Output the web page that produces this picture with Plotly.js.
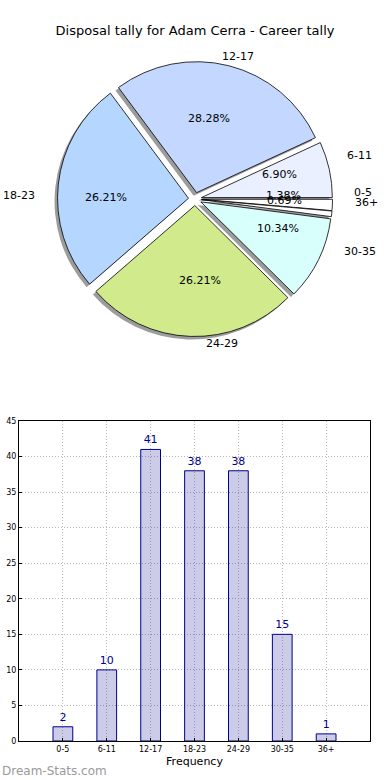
<!DOCTYPE html>
<html>
<head>
<meta charset="utf-8">
<script src="https://cdn.plot.ly/plotly-3.0.1.min.js"></script>
<style>html,body{margin:0;padding:0;background:#fff;}#chart{width:390px;height:780px;}</style>
</head>
<body>
<div id="chart"></div>
<script>
const categories = ['0-5','6-11','12-17','18-23','24-29','30-35','36+'];
const counts = [2, 10, 41, 38, 38, 15, 1];
const pieColors = ['#ffffff','#eaf0ff','#c4d8ff','#b4d6ff','#d0ea8c','#d9fffd','#ffffff'];
const titleText = 'Disposal tally for Adam Cerra - Career tally';

const W = 390, H = 780;
const FONT = 'DejaVu Sans, sans-serif';
const pull = 0.05;
// pie box in pixels
const box = {x0: 57.5, x1: 332.5, y0: 61.5, y1: 336.5};
const cx = (box.x0 + box.x1) / 2, cy = (box.y0 + box.y1) / 2;
// text placement radii (reference pie is slightly wider than tall)
const rx = 137, ry = 126;
const px2x = p => p / W, px2y = p => 1 - p / H;

const total = counts.reduce((a, b) => a + b, 0);
const pulls = counts.map(() => pull);

const shadowDx = -3, shadowDy = 3;
const shadow = {
  type: 'pie', values: counts, labels: categories, sort: false,
  direction: 'counterclockwise', rotation: 90, pull: pulls,
  marker: {colors: counts.map(() => 'rgba(90,90,90,0.6)'), line: {width: 0}},
  textinfo: 'none', hoverinfo: 'skip', showlegend: false,
  domain: {x: [px2x(box.x0 + shadowDx), px2x(box.x1 + shadowDx)], y: [px2y(box.y1 + shadowDy), px2y(box.y0 + shadowDy)]}
};
const pie = {
  type: 'pie', values: counts, labels: categories, sort: false,
  direction: 'counterclockwise', rotation: 90, pull: pulls,
  marker: {colors: pieColors, line: {color: '#000', width: 0.8}},
  textinfo: 'none', hoverinfo: 'label+percent', showlegend: false,
  domain: {x: [px2x(box.x0), px2x(box.x1)], y: [px2y(box.y1), px2y(box.y0)]}
};

const bars = {
  type: 'bar', x: categories, y: counts, width: 0.45,
  marker: {color: 'rgba(0,0,139,0.2)', line: {color: '#00008b', width: 1}},
  text: counts.map(String), textposition: 'outside', cliponaxis: false,
  textfont: {color: '#00008b', size: 11, family: FONT},
  xaxis: 'x', yaxis: 'y', showlegend: false, hoverinfo: 'x+y'
};

const annotations = [];
let cum = 0;
counts.forEach((v, i) => {
  const mid = (cum + v / 2) / total * 2 * Math.PI;
  cum += v;
  const c = Math.cos(mid), s = Math.sin(mid);
  const ox = pull * rx * c, oy = pull * ry * s;
  annotations.push({
    xref: 'paper', yref: 'paper', showarrow: false,
    x: px2x(cx + ox + 0.6 * rx * c), y: px2y(cy - oy - 0.6 * ry * s),
    xanchor: 'center', yanchor: 'middle',
    text: (v / total * 100).toFixed(2) + '%',
    font: {family: FONT, size: 11, color: '#000'}
  });
  annotations.push({
    xref: 'paper', yref: 'paper', showarrow: false,
    x: px2x(cx + ox + 1.1 * rx * c), y: px2y(cy - oy - 1.1 * ry * s),
    xanchor: c > 0 ? 'left' : 'right', yanchor: 'middle',
    text: categories[i],
    font: {family: FONT, size: 11, color: '#000'}
  });
});
annotations.push({
  xref: 'paper', yref: 'paper', showarrow: false,
  x: 0, y: px2y(771), xanchor: 'left', yanchor: 'middle',
  text: 'Dream-Stats.com', font: {family: FONT, size: 12, color: '#9a9a9a'}
});

const layout = {
  width: W, height: H,
  margin: {l: 0, r: 0, t: 0, b: 0},
  paper_bgcolor: '#fff', plot_bgcolor: '#fff',
  font: {family: FONT, color: '#000'},
  title: {text: titleText, font: {family: FONT, size: 13, color: '#000'}, x: 0.5, xanchor: 'center', y: px2y(30), yanchor: 'middle'},
  xaxis: {
    domain: [px2x(19), px2x(370)], anchor: 'y', type: 'category',
    range: [-1, 7], showgrid: true, gridcolor: '#b8b8b8', griddash: '1px,2px', gridwidth: 1,
    showline: true, mirror: true, linecolor: '#000', linewidth: 1,
    ticks: 'inside', ticklen: 3, tickcolor: '#000',
    tickfont: {family: FONT, size: 8}, zeroline: false, fixedrange: true,
    title: {text: 'Frequency', font: {family: FONT, size: 11}, standoff: 4}
  },
  yaxis: {
    domain: [px2y(741), px2y(421)], anchor: 'x',
    range: [0, 45], dtick: 5, showgrid: true, gridcolor: '#b8b8b8', griddash: '1px,2px', gridwidth: 1,
    showline: true, mirror: true, linecolor: '#000', linewidth: 1,
    ticks: 'inside', ticklen: 3, tickcolor: '#000',
    tickfont: {family: FONT, size: 8}, zeroline: false, fixedrange: true
  },
  annotations: annotations
};

Plotly.newPlot('chart', [shadow, pie, bars], layout, {staticPlot: true, displayModeBar: false});
</script>
</body>
</html>
